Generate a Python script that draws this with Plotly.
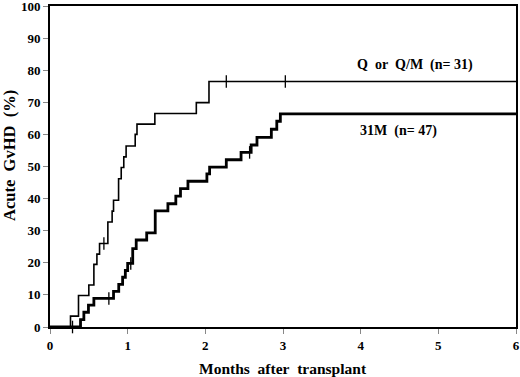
import plotly.graph_objects as go

# Q or Q/M (n=31): event times (months) and cumulative incidence (%)
q_t = [0, 0.264, 0.367, 0.50, 0.565, 0.604, 0.638, 0.745, 0.80, 0.818, 0.883, 0.917, 0.95, 0.98, 1.097, 1.12, 1.35, 1.884, 2.047, 6.0]
q_v = [0, 3.4, 9.8, 13.1, 19.5, 22.7, 26.0, 32.7, 36.1, 39.5, 46.2, 49.7, 53.0, 56.4, 60.0, 63.2, 66.5, 69.9, 76.5, 76.5]
q_cens_t = [0.694, 2.27, 3.03]
q_cens_v = [26.0, 76.5, 76.5]

# 31M (n=47)
m_t = [0, 0.393, 0.436, 0.495, 0.565, 0.818, 0.885, 0.935, 0.97, 1.0, 1.065, 1.11, 1.245, 1.355, 1.518, 1.62, 1.68, 1.776, 2.02, 2.055, 2.27, 2.46, 2.59, 2.665, 2.85, 2.92, 2.966, 6.0]
m_v = [0, 2.3, 4.6, 6.8, 8.9, 11.1, 13.3, 15.5, 17.6, 19.8, 24.4, 27.1, 29.3, 36.2, 38.4, 40.8, 43.1, 45.4, 47.7, 49.8, 52.1, 54.4, 56.7, 59.1, 61.6, 64.1, 66.4, 66.4]
m_cens_t = [0.29, 0.758, 1.04, 2.57]
m_cens_v = [0, 8.9, 19.8, 54.4]

x_ticks = [0, 1, 2, 3, 4, 5, 6]
y_ticks = [0, 10, 20, 30, 40, 50, 60, 70, 80, 90, 100]

FONT = "Liberation Serif"

fig = go.Figure()
fig.add_trace(go.Scatter(x=q_t, y=q_v, mode="lines", line=dict(shape="hv", color="black", width=1.6),
                         showlegend=False, hoverinfo="skip", cliponaxis=False))
fig.add_trace(go.Scatter(x=m_t, y=m_v, mode="lines", line=dict(shape="hv", color="black", width=2.8),
                         showlegend=False, hoverinfo="skip", cliponaxis=False))
fig.add_trace(go.Scatter(x=q_cens_t, y=q_cens_v, mode="markers",
                         marker=dict(symbol="line-ns", size=9, line=dict(color="black", width=1.3)),
                         showlegend=False, hoverinfo="skip", cliponaxis=False))
fig.add_trace(go.Scatter(x=m_cens_t, y=m_cens_v, mode="markers",
                         marker=dict(symbol="line-ns", size=9, line=dict(color="black", width=1.3)),
                         showlegend=False, hoverinfo="skip", cliponaxis=False))

fig.add_annotation(x=4.70, y=81.5, text="Q&nbsp;&nbsp;or&nbsp;&nbsp;Q/M&nbsp;&nbsp;(n=&nbsp;31)", showarrow=False,
                   font=dict(family=FONT, size=14, color="black", weight="bold"))
fig.add_annotation(x=4.49, y=61.1, text="31M&nbsp;&nbsp;(n=&nbsp;47)", showarrow=False,
                   font=dict(family=FONT, size=14, color="black", weight="bold"))

# axis titles
fig.add_annotation(xref="paper", yref="paper", x=0.5, y=-0.128, xanchor="center", yanchor="middle",
                   text="Months&nbsp; after&nbsp; transplant", showarrow=False,
                   font=dict(family=FONT, size=15.5, color="black", weight="bold"))
fig.add_annotation(xref="paper", yref="paper", x=-0.0858, y=0.533, xanchor="center", yanchor="middle",
                   textangle=-90, text="Acute&nbsp; GvHD&nbsp; (%)", showarrow=False,
                   font=dict(family=FONT, size=16.5, color="black", weight="bold"))

fig.update_layout(
    width=520, height=377,
    margin=dict(l=50, r=4, t=6, b=50),
    paper_bgcolor="white", plot_bgcolor="white",
    font=dict(family=FONT, color="black"),
    xaxis=dict(range=[0, 6], tickvals=x_ticks, ticks="outside", ticklen=5, tickcolor="#888", tickwidth=1,
               showgrid=False, zeroline=False, showline=True, linecolor="black", linewidth=2, mirror=True,
               automargin=False, ticklabeloverflow="allow",
               tickfont=dict(family=FONT, size=13, weight="bold")),
    yaxis=dict(range=[0, 100], tickvals=y_ticks, ticks="outside", ticklen=5, tickcolor="#888", tickwidth=1,
               showgrid=False, zeroline=False, showline=True, linecolor="black", linewidth=2, mirror=True,
               automargin=False, ticklabeloverflow="allow",
               tickfont=dict(family=FONT, size=13, weight="bold")),
)

fig.write_html("out.html", config={"displayModeBar": False},
               post_script="document.body.style.margin='0';document.body.style.overflow='hidden';")
